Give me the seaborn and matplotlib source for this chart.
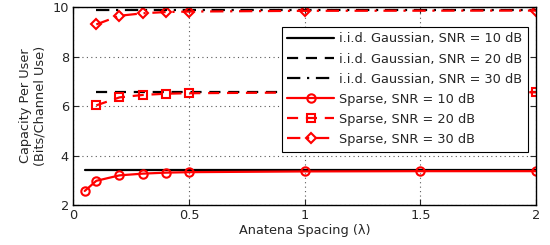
import numpy as np
import pandas as pd
import seaborn as sns
import matplotlib
matplotlib.use("Agg")
import matplotlib.pyplot as plt

# values
x_10 = [0.05, 0.1, 0.2, 0.3, 0.4, 0.5, 1.0, 1.5, 2.0]
sparse_10 = [2.57, 2.98, 3.20, 3.27, 3.31, 3.33, 3.36, 3.37, 3.37]
x_hi = [0.1, 0.2, 0.3, 0.4, 0.5, 1.0, 2.0]
sparse_20 = [6.03, 6.35, 6.45, 6.50, 6.52, 6.55, 6.56]
sparse_30 = [9.30, 9.65, 9.75, 9.80, 9.82, 9.85, 9.86]
iid_x10 = [0.05, 2.0]
iid_10 = [3.40, 3.40]
iid_x = [0.1, 2.0]
iid_20 = [6.58, 6.58]
iid_30 = [9.88, 9.88]

labels_iid = ["i.i.d. Gaussian, SNR = 10 dB", "i.i.d. Gaussian, SNR = 20 dB",
              "i.i.d. Gaussian, SNR = 30 dB"]
labels_sp = ["Sparse, SNR = 10 dB", "Sparse, SNR = 20 dB", "Sparse, SNR = 30 dB"]

sns.set_style("ticks")
plt.rcParams["font.family"] = ["DejaVu Sans"]
plt.rcParams["font.size"] = 9.3

fig = plt.figure(figsize=(5.5, 2.45), dpi=100)
ax = fig.add_axes([0.133, 0.163, 0.842, 0.808])

lw = 1.6
dash = (5, 3.5)
dashdot = (6, 3, 1, 3)

sns.lineplot(x=iid_x10, y=iid_10, ax=ax, color="black", lw=lw, label=labels_iid[0])
sns.lineplot(x=iid_x, y=iid_20, ax=ax, color="black", lw=lw, label=labels_iid[1])
ax.lines[-1].set_dashes(dash)
sns.lineplot(x=iid_x, y=iid_30, ax=ax, color="black", lw=lw, label=labels_iid[2])
ax.lines[-1].set_dashes(dashdot)

mk = dict(markerfacecolor="none", markeredgecolor="red", markeredgewidth=1.5)
sns.lineplot(x=x_10, y=sparse_10, ax=ax, color="red", lw=lw, marker="o",
             markersize=6, label=labels_sp[0], **mk)
sns.lineplot(x=x_hi, y=sparse_20, ax=ax, color="red", lw=lw, marker="s",
             markersize=5.5, label=labels_sp[1], **mk)
ax.lines[-1].set_dashes(dash)
sns.lineplot(x=x_hi, y=sparse_30, ax=ax, color="red", lw=lw, marker="D",
             markersize=5.5, label=labels_sp[2], **mk)
ax.lines[-1].set_dashes(dashdot)

ax.set_xlim(0, 2)
ax.set_ylim(2, 10)
ax.set_xticks([0, 0.5, 1, 1.5, 2])
ax.set_xticklabels(["0", "0.5", "1", "1.5", "2"])
ax.set_yticks([2, 4, 6, 8, 10])
ax.grid(True, linestyle=(0, (1, 3)), color="0.35", lw=0.8)
ax.tick_params(direction="in", top=True, right=True, length=4, pad=3)
for s in ax.spines.values():
    s.set_linewidth(1.0)
    s.set_color("black")
ax.set_xlabel("Anatena Spacing (\u03bb)", labelpad=1)
ax.set_ylabel("Capacity Per User\n(Bits/Channel Use)", labelpad=4)

leg = ax.legend(loc="upper right", bbox_to_anchor=(0.996, 0.934), frameon=True,
                fancybox=False, edgecolor="black", framealpha=1,
                handlelength=3.6, handletextpad=0.4, borderpad=0.45,
                labelspacing=0.55, fontsize=9.3)
leg.get_frame().set_linewidth(0.8)

fig.savefig("out.png", dpi=100)
